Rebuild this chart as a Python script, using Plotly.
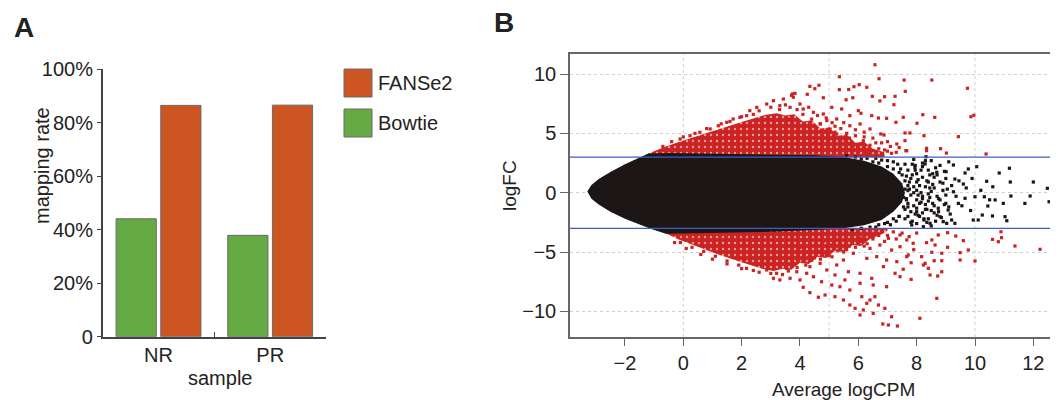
import plotly.graph_objects as go

# ---------------- Panel A data ----------------
samples = ["NR", "PR"]
bowtie_rate = [44.1, 37.9]
fanse2_rate = [86.5, 86.6]
legend_names = ["FANSe2", "Bowtie"]
a_tickvals = [0, 20, 40, 60, 80, 100]
a_ticktext = ["0", "20%", "40%", "60%", "80%", "100%"]

# ---------------- Panel B data ----------------
thresholds = [3, -3]
grid_x = [0, 5, 10]
b_xticks = [-2, 0, 2, 4, 6, 8, 10, 12]
b_yticks = [-10, -5, 0, 5, 10]

# solid black core of the MA cloud (outline)
core_x = [-3.29, -3.15, -2.9, -2.5, -2.0, -1.5, -1.2, -0.5, 1.0, 3.0, 4.5, 5.5, 6.2, 6.8, 7.2, 7.5, 7.6,
          7.5, 7.2, 6.8, 6.2, 5.5, 4.5, 3.0, 1.0, -0.6, -1.1, -1.5, -2.0, -2.5, -2.9, -3.15]
core_y = [0.1, 0.65, 1.15, 1.75, 2.4, 2.95, 3.3, 3.35, 3.3, 3.25, 3.15, 3.0, 2.7, 2.2, 1.6, 0.8, 0.0,
          -0.8, -1.6, -2.3, -2.75, -3.0, -3.15, -3.3, -3.35, -3.45, -3.05, -2.7, -2.2, -1.6, -1.0, -0.5]

# dense red wedge above the cloud (outline)
red_up_x = [-1.2, -0.6, 0.0, 1.0, 2.0, 2.8, 3.2, 3.5, 3.8, 4.1, 4.4, 4.7, 5.0, 5.3, 5.6, 5.9, 6.2, 6.5, 6.9, 6.9, -1.2]
red_up_y = [3.3, 3.9, 4.4, 5.2, 5.95, 6.55, 6.7, 6.5, 6.6, 6.0, 6.1, 5.4, 5.5, 4.8, 4.9, 4.2, 4.3, 3.7, 3.4, 3.0, 3.0]
# dense red wedge below the cloud (outline)
red_lo_x = [-0.7, -0.2, 0.5, 1.2, 2.0, 2.7, 3.1, 3.4, 3.7, 4.0, 4.3, 4.6, 4.9, 5.2, 5.5, 5.8, 6.1, 6.4, 6.8, 7.0, 7.0, -0.7]
red_lo_y = [-3.3, -3.9, -4.55, -5.2, -5.85, -6.4, -6.6, -6.4, -6.5, -5.9, -6.0, -5.4, -5.5, -4.9, -5.0, -4.4, -4.5, -3.9, -3.5, -3.2, -3.0, -3.0]

# scattered significant genes (red)
red_x = [6.57, 5.35, 7.57, 6.71, 6.03, 6.29, 5.85, 4.34, 4.65, 4.51, 5.35, 7.61, 3.74, 4.25, 4.8, 5.81, 6.48, 6.9,
         7.26, 5.58, 6.74, 7.22, 5.09, 5.43, 6.0, 5.71, 6.09, 6.46, 6.69, 6.97, 7.29, 7.54, 5.26, 5.71, 6.06, 6.4,
         6.77, 6.88, 7.6, 7.32, 7.66, 7.14, 6.51, 6.17, 5.54, 5.83,
         8.52, 9.74, 8.21, 8.62, 9.86, 9.96, 8.01, 7.77, 8.25, 9.43, 7.6, 8.34, 8.34, 8.82, 9.02, 7.63, 10.38,
         2.86, 3.09, 3.43, 3.77, 3.31, 4.0, 4.11, 3.66, 4.46, 4.8, 4.92, 4.69, 5.03, 5.26, 2.28, 2.17, 1.94, 1.71,
         1.49, 1.2, 0.92, 0.57, 0.23, -0.11, 2.52, 3.71, 3.83, 5.67,
         6.3, 6.9, 7.0, 5.9, 5.2, 4.9, 6.6, 7.4, 6.2, 5.5,
         3.0, 3.3, 3.5, 3.9, 4.1, 4.3, 4.4, 4.6, 4.7, 4.9, 5.1, 5.2, 5.4, 5.6, 5.7, 5.9, 6.1, 6.2, 6.4, 6.5,
         6.7, 6.8, 7.0, 7.1, 7.3, 5.0, 5.5, 6.0, 4.5, 3.6, 2.6, 2.4, 2.0, 1.6, 1.3, 0.8, 0.4, 0.0, -0.4, -0.7,
         11.37, 12.23, 10.91, 10.89, 10.8, 10.6, 10.0, 9.77, 9.6, 9.49, 9.49, 9.34, 9.06, 9.06, 8.86, 8.86, 8.86,
         8.72, 8.69, 8.6, 8.52, 8.63, 8.52, 8.4, 8.46, 8.29, 8.34, 8.17, 8.23, 8.11, 7.81, 7.81, 7.71, 7.74, 7.88, 8.74,
         7.03, 7.34, 6.84, 7.14, 6.51, 6.06, 6.17, 5.89, 5.71, 6.29, 6.69, 6.91, 5.49, 5.2, 4.86, 4.63, 4.34, 4.11,
         6.12, 6.4, 6.57, 5.71, 5.37, 5.09, 4.74, 5.54, 6.06, 6.51, 6.97, 7.43, 7.54, 7.26, 6.86, 6.46, 6.06, 5.66,
         5.2, 4.92, 4.46, 4.0, 3.66, 3.31, 3.09, 6.29, 6.63, 6.97, 7.32, 7.66, 7.14, 7.43, 6.74, 6.4, 5.83, 5.49,
         5.26, 4.69, 4.34, 6.06, 6.51, 7.03, 7.43, 7.66,
         2.86, 3.2, 3.54, 3.89, 4.23, 3.77, 2.17, 2.4, 1.9, 1.5, 1.1, 0.7, 0.3, -0.1, 4.1, 4.5, 5.0, 5.6, 6.2, 6.9,
         7.2, 6.8, 5.1, 4.6,
         3.0, 3.4, 3.6, 3.9, 4.2, 4.4, 4.7, 4.9, 5.1, 5.3, 5.5, 5.7, 5.9, 6.1, 6.3, 6.5, 6.7, 7.0, 7.3, 7.5,
         5.2, 4.8, 4.0, 2.6, 2.0, 1.5, 1.0, 0.6, 0.1, -0.3, 8.0, 7.9]
red_y = [10.78, 9.77, 9.49, 9.6, 9.1, 8.88, 8.93, 8.96, 9.05, 8.76, 8.68, 8.54, 8.32, 8.29, 8.0, 8.0, 8.12, 8.09,
         8.12, 7.83, 7.73, 7.41, 7.19, 7.05, 6.91, 6.49, 6.69, 6.49, 6.29, 6.27, 5.93, 6.35, 6.21, 5.64, 5.79, 5.37,
         4.95, 4.86, 5.03, 4.1, 3.54, 3.32, 3.54, 4.38, 4.52, 3.96,
         9.49, 8.8, 6.57, 6.35, 6.4, 6.52, 5.85, 5.03, 4.8, 4.72, 4.38, 3.74, 3.54, 3.71, 3.34, 3.54, 3.26,
         7.47, 7.75, 7.89, 8.04, 7.33, 7.47, 7.05, 7.19, 6.77, 6.63, 6.07, 5.79, 5.37, 4.95, 6.91, 6.49, 6.35, 6.21,
         5.93, 5.64, 5.37, 5.09, 4.8, 4.52, 7.19, 8.2, 8.37, 8.7,
         3.3, 3.6, 4.3, 4.8, 5.6, 5.2, 4.2, 3.8, 5.1, 5.9,
         7.2, 7.0, 7.4, 7.0, 6.6, 7.2, 6.2, 6.5, 5.8, 6.3, 5.9, 5.1, 5.4, 5.0, 4.6, 5.3, 4.1, 4.7, 4.0, 4.6,
         3.7, 4.2, 3.5, 3.9, 3.4, 4.5, 3.6, 3.4, 4.2, 6.2, 6.9, 6.6, 6.4, 6.0, 5.8, 5.4, 5.0, 4.7, 4.3, 3.9,
         -4.49, -4.77, -3.79, -3.29, -4.13, -3.93, -5.75, -4.83, -4.04, -5.05, -5.67, -3.65, -3.37, -4.6, -5.1, -5.73, -6.66,
         -7.02, -8.9, -5.73, -3.98, -4.41, -5.02, -6.37, -6.93, -5.95, -4.21, -5.39, -6.09, -10.58, -7.3, -5.9, -5.25, -3.7, -4.26, -3.56,
         -11.15, -11.23, -11.06, -10.45, -10.16, -10.3, -9.88, -9.74, -9.46, -9.32, -9.46, -9.74, -9.04, -8.76, -8.62, -8.81, -8.42, -7.97,
         -8.76, -9.04, -8.76, -8.2, -7.92, -7.78, -7.5, -7.35, -7.63, -7.78, -7.92, -7.08, -6.45, -6.79, -6.23, -7.21, -6.79, -6.66,
         -6.93, -6.51, -7.08, -7.35, -7.21, -7.35, -7.21, -5.53, -5.39, -5.67, -5.81, -5.39, -4.83, -4.55, -4.41, -4.69, -5.1, -5.67,
         -6.09, -5.95, -6.23, -3.84, -3.71, -3.84, -3.56, -3.98,
         -6.51, -6.79, -6.37, -6.66, -6.79, -6.09, -6.37, -6.55, -6.1, -5.75, -5.35, -4.95, -4.6, -4.2, -5.8, -5.5, -5.3, -4.8, -4.5, -4.1,
         -3.3, -3.3, -4.4, -4.9,
         -6.8, -6.9, -6.6, -6.3, -6.1, -5.7, -5.6, -5.2, -5.4, -4.9, -5.0, -4.5, -4.6, -4.1, -4.3, -3.9, -3.6, -3.6, -3.9, -3.4,
         -3.8, -4.1, -4.6, -6.7, -6.4, -6.0, -5.6, -5.2, -4.7, -4.2, -3.4, -4.8]

# scattered non-significant genes at high abundance (black)
black_x = [8.32, 9.26, 10.06, 11.18, 10.83, 9.66, 9.77, 9.01, 10.4, 11.21, 12.0, 10.61, 12.48, 9.31, 9.6, 8.69, 8.29, 7.94,
           12.54, 11.89, 11.71, 11.23, 10.97, 11.03, 11.09, 10.69, 10.6, 10.44, 10.25, 10.11, 9.94, 10.32, 10.0, 9.66,
           9.43, 9.31, 9.2, 9.03, 8.91, 9.08, 9.26, 8.8, 8.74, 8.46, 8.23, 7.83,
           7.6, 7.7, 7.8, 7.7, 7.8, 7.7, 7.8, 7.6, 7.9, 8.0, 8.0, 8.0, 8.0, 8.0, 8.1, 8.0, 8.2, 8.2, 8.3, 8.2, 8.3, 8.2,
           8.4, 8.4, 8.5, 8.4, 8.5, 8.4, 8.6, 8.6, 8.7, 8.6, 8.7, 8.8, 8.9, 8.8, 9.0, 9.0, 9.1, 9.2, 9.1, 8.5, 7.5, 7.55,
           7.45, 7.4, 7.9, 8.1, 8.3, 8.35, 7.35, 7.3, 7.2, 7.0, 6.8, 6.6, 6.9, 6.6, 7.1,
           7.65, 7.75, 7.95, 8.15, 8.45, 8.05, 7.85, 8.25, 8.55, 7.65, 7.95, 8.35,
           6.3, 6.5, 6.7, 7.0, 7.2, 7.4, 7.6, 7.7, 7.65, 7.6, 7.4, 7.2, 7.0, 6.7, 6.4, 6.1, 5.8, 5.6, 5.9, 6.1,
           7.85, 7.9, 8.05, 8.15, 8.25, 8.45, 8.55, 8.65, 8.75, 8.95, 9.05, 9.15, 9.35, 9.45, 9.55, 9.7, 9.85, 9.9,
           10.2, 10.5,
           7.7, 7.75, 7.8, 7.9, 7.95, 8.0, 8.1, 8.15, 8.2, 8.3, 8.35, 8.4, 8.5, 8.55, 8.6, 8.7, 8.75, 8.85, 8.9, 9.0,
           7.55, 7.6, 7.7, 7.85, 8.05, 8.2, 8.45, 8.65, 8.8, 8.95]
black_y = [3.03, 2.33, 2.19, 2.06, 1.66, 1.66, 2.0, 1.77, 0.96, 0.9, 0.9, 0.5, 0.37, 1.15, 0.73, 1.72, 2.42, 2.14,
           -0.76, -0.28, -0.9, -0.28, -0.9, -2.02, -2.36, -0.61, -1.96, -1.12, -1.88, -2.3, -2.3, -0.34, -0.34, -0.47,
           -0.9, -2.58, -2.3, -2.58, -2.44, -1.46, 0.08, -2.02, -1.31, -2.58, -2.86, -2.72,
           2.4, 1.9, 1.2, 0.6, -0.2, -0.9, -1.6, -2.2, 2.8, 1.6, 0.9, 0.2, -0.6, -1.3, -2.0, -2.6, 2.2, 1.3, 0.5, -0.3, -1.0, -1.7,
           1.9, 0.9, 0.1, -0.7, -1.5, -2.2, 1.3, 0.4, -0.3, -1.1, -1.9, 0.9, 0.2, -0.6, 1.2, -0.2, -1.2, 0.6, 2.6, 2.7, 1.5, -1.2,
           2.0, -2.0, 0.5, -0.9, 2.7, -2.5, 2.4, -2.4, 2.6, 2.7, 2.75, 2.9, -2.6, -2.9, -2.7,
           -0.5, 0.3, -1.8, 0.0, -0.4, 1.1, -2.4, -2.3, 1.6, 1.4, 2.3, -1.4,
           2.9, 2.6, 2.5, 2.2, 2.0, 1.7, 1.0, 0.2, -0.6, -1.4, -2.0, -2.2, -2.5, -2.7, -2.9, -3.0, -3.1, 3.1, 3.0, 2.85,
           1.5, -1.1, -0.2, 1.9, -2.2, 1.5, -0.9, 2.1, -1.6, 1.8, 0.3, -1.8, -0.3, 1.0, -1.1, 0.4, -1.5, 1.2,
           0.2, -0.6,
           -1.2, 0.9, -2.5, 0.0, 1.9, -1.6, 0.6, -0.8, 2.5, -1.4, 1.0, -0.1, -2.8, 0.7, -1.7, 1.5, -0.5, -2.1, 0.8, -0.9,
           -0.4, 0.3, -2.0, 2.4, -1.9, -0.5, 0.4, -2.4, 2.3, -1.0]

FONT = "Liberation Sans, Arial, Helvetica, sans-serif"
OFF = 8                     # page body margin of the viewer
W, H = 1058 - OFF, 400 - OFF
RED = "#CC2222"
BLACK = "#1c1616"


def px(xp):
    return (xp - OFF) / W


def py(yp):
    return 1 - (yp - OFF) / H


fig = go.Figure()

# ---- Panel A bars ----
fig.add_trace(go.Bar(x=samples, y=bowtie_rate, name=legend_names[1], marker=dict(color="#66AA44", line=dict(color="#6a6a6a", width=1)),
                     xaxis="x", yaxis="y", showlegend=False))
fig.add_trace(go.Bar(x=samples, y=fanse2_rate, name=legend_names[0], marker=dict(color="#CC5522", line=dict(color="#6a6a6a", width=1)),
                     xaxis="x", yaxis="y", showlegend=False))

# ---- Panel B MA plot ----
speckle = dict(shape=".", bgcolor=RED, fgcolor="#ffffff", fgopacity=0.55, size=6, solidity=0.12)
fig.add_trace(go.Scatter(x=red_up_x, y=red_up_y, fill="toself", fillcolor=RED, fillpattern=speckle, mode="lines",
                         line=dict(width=0), xaxis="x2", yaxis="y2", showlegend=False, hoverinfo="skip"))
fig.add_trace(go.Scatter(x=red_lo_x, y=red_lo_y, fill="toself", fillcolor=RED, fillpattern=speckle, mode="lines",
                         line=dict(width=0), xaxis="x2", yaxis="y2", showlegend=False, hoverinfo="skip"))
fig.add_trace(go.Scatter(x=core_x, y=core_y, fill="toself", fillcolor=BLACK, mode="lines", line=dict(width=0),
                         xaxis="x2", yaxis="y2", showlegend=False, hoverinfo="skip"))
fig.add_trace(go.Scatter(x=red_x, y=red_y, mode="markers", marker=dict(color=RED, size=3.2, symbol="square"),
                         xaxis="x2", yaxis="y2", showlegend=False))
fig.add_trace(go.Scatter(x=black_x, y=black_y, mode="markers", marker=dict(color=BLACK, size=3.2, symbol="square"),
                         xaxis="x2", yaxis="y2", showlegend=False))

for t in thresholds:
    fig.add_shape(type="line", x0=0, x1=1, y0=t, y1=t, xref="x2 domain", yref="y2",
                  line=dict(color="#3D5FBF", width=1.3), layer="above")
for g in grid_x:
    fig.add_shape(type="line", x0=g, x1=g, y0=0, y1=1, xref="x2", yref="y2 domain",
                  line=dict(color="#cfcfcf", width=1, dash="dot"), layer="below")

axis_font = dict(family=FONT, size=20, color="#222")

fig.update_layout(
    width=W, height=H, margin=dict(l=0, r=0, t=0, b=0, pad=0, autoexpand=False),
    paper_bgcolor="white", plot_bgcolor="white",
    barmode="group", bargap=0.2, bargroupgap=0.1,
    font=dict(family=FONT, color="#222"),
    xaxis=dict(domain=[px(102.7), px(326)], range=[-0.5, 1.5], type="category", automargin=False,
               showline=True, linecolor="#444", linewidth=1.5, ticks="inside", ticklen=5, tickcolor="#444",
               tickson="boundaries", tickfont=dict(family=FONT, size=20, color="#222"), showgrid=False, zeroline=False,
               fixedrange=True),
    yaxis=dict(domain=[py(336.7), py(69.3)], range=[0, 100], tickvals=a_tickvals, ticktext=a_ticktext, automargin=False,
               showline=True, linecolor="#444", linewidth=1.5, ticks="outside", ticklen=4, tickcolor="#444",
               tickfont=axis_font, showgrid=False, zeroline=False, anchor="x"),
    xaxis2=dict(domain=[px(570), 1.0], range=[(570 - 683.3) / 29.17, (1058 - 683.3) / 29.17], tickvals=b_xticks,
                automargin=False,
                showline=True, mirror=True, linecolor="#666", linewidth=1.5, ticks="outside", ticklen=7, tickcolor="#666",
                tickfont=axis_font, showgrid=False, zeroline=False, anchor="y2"),
    yaxis2=dict(domain=[py(337), py(54)], range=[(192.7 - 337) / 11.87, (192.7 - 54) / 11.87], tickvals=b_yticks,
                automargin=False,
                showline=True, linecolor="#666", linewidth=1.5, ticks="outside", ticklen=8, tickcolor="#666",
                tickfont=axis_font, showgrid=True, gridcolor="#cfcfcf", griddash="dot", gridwidth=1,
                zeroline=False, anchor="x2"),
)

# ---- legend of panel A (drawn manually, large swatches) ----
fig.add_shape(type="rect", xref="paper", yref="paper", x0=px(344), x1=px(372), y0=py(97), y1=py(69),
              fillcolor="#CC5522", line=dict(color="#6a6a6a", width=1))
fig.add_shape(type="rect", xref="paper", yref="paper", x0=px(344), x1=px(372), y0=py(137), y1=py(109),
              fillcolor="#66AA44", line=dict(color="#6a6a6a", width=1))

ann = [
    dict(text="<b>A</b>", x=px(12), y=py(28), xanchor="left", font=dict(size=28)),
    dict(text="<b>B</b>", x=px(492), y=py(23), xanchor="left", font=dict(size=28)),
    dict(text=legend_names[0], x=px(376), y=py(83), xanchor="left", font=dict(size=20)),
    dict(text=legend_names[1], x=px(376), y=py(123), xanchor="left", font=dict(size=20)),
    dict(text="mapping rate", x=px(42), y=py(166), textangle=-90, font=dict(size=20)),
    dict(text="sample", x=px(220), y=py(378), font=dict(size=20)),
    dict(text="logFC", x=px(509), y=py(186), textangle=-90, font=dict(size=19)),
    dict(text="Average logCPM", x=px(843), y=py(389), font=dict(size=19)),
]
for a in ann:
    a.setdefault("xanchor", "center")
    f = a.pop("font")
    fig.add_annotation(xref="paper", yref="paper", showarrow=False, yanchor="middle",
                       font=dict(family=FONT, color="#222", size=f["size"]), **a)

fig.write_html("out.html")
